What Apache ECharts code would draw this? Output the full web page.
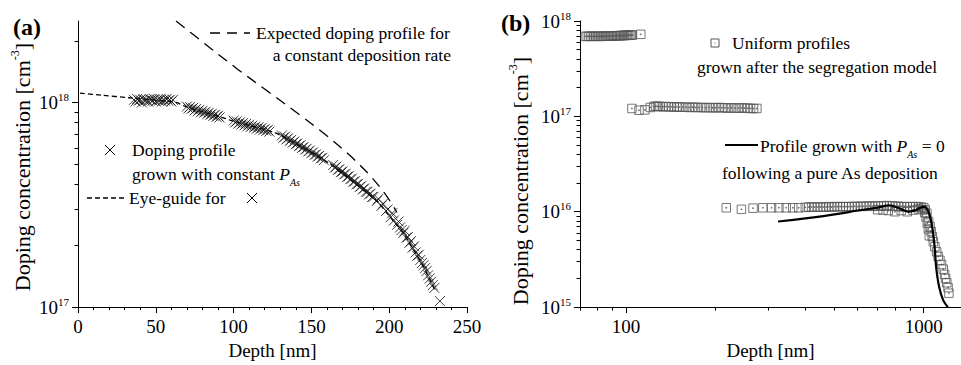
<!DOCTYPE html>
<html><head><meta charset="utf-8">
<script src="https://cdn.jsdelivr.net/npm/echarts@6/dist/echarts.min.js"></script>
<style>html,body{margin:0;padding:0;background:#fff}#c{width:961px;height:365px}</style>
</head><body><div id="c"></div>
<script>
const FONT = "'Liberation Serif', 'Times New Roman', serif";

// ---------- Panel (a) ----------
const aYLabelValues = [1e17, 1e18];
const aYMinorTicks = [2e17,3e17,4e17,5e17,6e17,7e17,8e17,9e17,2e18];

const expDepth = [63, 78.4, 101.5, 121.5, 140.7, 157.5, 174.8, 187.7, 198.6, 205];
const expConc  = [2.5e18, 2.02e18, 1.475e18, 1.14e18, 8.9e17, 7.11e17, 5.5e17, 4.39e17, 3.47e17, 2.9e17];

const eyeDepth = [1.3, 15, 33, 50, 63, 69, 80, 93, 98, 110, 125, 130, 145, 160, 163, 175, 192, 200, 209, 215, 222, 226, 229.5];
const eyeConc  = [1.11e18, 1.085e18, 1.054e18, 1.025e18, 1.0e18, 9.55e17, 9.0e17, 8.43e17, 8.18e17, 7.72e17, 7.18e17, 6.92e17, 5.97e17, 5.13e17, 4.94e17, 4.19e17, 3.3e17, 2.79e17, 2.3e17, 1.94e17, 1.58e17, 1.37e17, 1.2e17];

const crossDepth = [
 36,37,38,39,40,41,42,43,44,45,46,47,48,49,50,51,52,53,54,55,56,57,58,59,60,61,
 70,71,72,73,74,75,76,77,78,79,80,81,82,83,84,85,86,87,88,89,90,91,
 100,101,102,103,104,105,106,107,108,109,110,111,112,113,114,115,116,117,118,119,120,121,122,123,
 131,132,133,134,135,136,137,138,139,140,141,142,143,144,145,146,147,148,149,150,151,152,153,154,155,156,157,158,
 164,165,166,167,168,169,170,171,172,173,174,175,176,177,178,179,180,181,182,183,184,185,186,187,188,189,190,192,193,195,196,198,199,
 201,202,203,205,206,207,208,209,210,211,212,213,214,215,216,217,218,219,220,221,222,223,224,225,226,227,228,229,232.6
];
const crossConc = [
 1.03e18,1.01e18,1.04e18,1.02e18,1.03e18,1.00e18,1.04e18,1.02e18,1.03e18,1.01e18,1.04e18,1.03e18,1.02e18,1.04e18,1.01e18,1.03e18,1.02e18,1.04e18,1.01e18,1.03e18,1.02e18,1.04e18,1.02e18,1.03e18,1.01e18,1.03e18,
 9.55e17,9.35e17,9.5e17,9.3e17,9.4e17,9.15e17,9.3e17,9.05e17,9.2e17,8.95e17,9.1e17,8.9e17,9.0e17,8.75e17,8.9e17,8.7e17,8.8e17,8.6e17,8.7e17,8.5e17,8.6e17,8.45e17,
 8.15e17,7.98e17,8.08e17,7.88e17,7.98e17,7.8e17,7.92e17,7.72e17,7.85e17,7.65e17,7.78e17,7.58e17,7.7e17,7.52e17,7.62e17,7.45e17,7.56e17,7.38e17,7.5e17,7.32e17,7.42e17,7.25e17,7.35e17,7.2e17,
 6.9e17,6.72e17,6.8e17,6.6e17,6.68e17,6.48e17,6.56e17,6.36e17,6.44e17,6.25e17,6.3e17,6.12e17,6.18e17,6.0e17,6.05e17,5.88e17,5.94e17,5.76e17,5.82e17,5.65e17,5.7e17,5.54e17,5.58e17,5.43e17,5.48e17,5.33e17,5.36e17,5.22e17,
 4.95e17,4.8e17,4.85e17,4.68e17,4.72e17,4.56e17,4.6e17,4.45e17,4.48e17,4.33e17,4.36e17,4.22e17,4.24e17,4.1e17,4.12e17,3.98e17,4.0e17,3.86e17,3.9e17,3.76e17,3.8e17,3.66e17,3.66e17,3.55e17,3.58e17,3.45e17,3.46e17,3.3e17,3.38e17,3.12e17,3.2e17,2.95e17,3.0e17,
 2.75e17,2.88e17,2.65e17,2.52e17,2.62e17,2.45e17,2.38e17,2.3e17,2.36e17,2.18e17,2.2e17,2.06e17,2.1e17,1.95e17,1.98e17,1.85e17,1.78e17,1.8e17,1.7e17,1.64e17,1.6e17,1.55e17,1.5e17,1.43e17,1.38e17,1.33e17,1.28e17,1.24e17,1.07e17
];

// ---------- Panel (b) ----------
const bXLabelValues = [100, 1000];
const bXMinorTicks = [70,80,90,200,300,400,500,600,700,800,900];
const bYLabelValues = [1e15, 1e16, 1e17, 1e18];
const bYMinorTicks = [2e15,3e15,4e15,5e15,6e15,7e15,8e15,9e15,2e16,3e16,4e16,5e16,6e16,7e16,8e16,9e16,2e17,3e17,4e17,5e17,6e17,7e17,8e17,9e17];

const sq1Depth = [73,74,75,76,77,78,79,80,81,82,83,84,85,86,87,88,89,90,91,92,93,94,95,96,97,98,99,100,101,102,103,104,105,112];
const sq1Conc  = [6.9e17,6.9e17,6.92e17,6.9e17,6.9e17,6.92e17,6.9e17,6.92e17,6.9e17,6.92e17,6.9e17,6.92e17,6.94e17,6.92e17,6.94e17,6.96e17,6.94e17,6.98e17,7.0e17,6.98e17,7.0e17,7.02e17,7.0e17,7.04e17,7.05e17,7.04e17,7.06e17,7.08e17,7.06e17,7.1e17,7.1e17,7.12e17,7.12e17,7.25e17];

const sq2Depth = [104.6,110.5,115.7,120.6,124,126,128,130,133,136,139,142,145,148,151,155,159,163,167,171,175,180,185,190,195,200,205,210,215,220,226,232,238,244,250,256,262,268,275];
const sq2Conc  = [1.21e17,1.16e17,1.17e17,1.24e17,1.27e17,1.28e17,1.27e17,1.27e17,1.26e17,1.27e17,1.26e17,1.26e17,1.25e17,1.26e17,1.25e17,1.25e17,1.25e17,1.24e17,1.25e17,1.24e17,1.24e17,1.24e17,1.23e17,1.24e17,1.23e17,1.23e17,1.24e17,1.23e17,1.23e17,1.22e17,1.23e17,1.22e17,1.22e17,1.23e17,1.22e17,1.22e17,1.21e17,1.21e17,1.21e17];

const sq3Depth = [217,244,267,288,308,326,345,363,380,400,411,420,430,440,450,460,470,480,490,500,512,524,536,548,560,573,586,600,614,628,642,657,672,687,703,719,735,752,769,786,804,822,840,860,880,900,920,940,960,980,1000,1012,1025,1038,1050,1059,1068,1077,1090,1105,1118,1133,1148,1163,1175,1184,1195,1207,1215];
const sq3Conc  = [1.1e16,1.06e16,1.09e16,1.1e16,1.1e16,1.1e16,1.1e16,1.1e16,1.1e16,1.11e16,1.12e16,1.12e16,1.12e16,1.12e16,1.12e16,1.12e16,1.12e16,1.13e16,1.12e16,1.13e16,1.13e16,1.13e16,1.13e16,1.13e16,1.13e16,1.13e16,1.14e16,1.13e16,1.14e16,1.14e16,1.14e16,1.15e16,1.14e16,1.15e16,1.15e16,1.15e16,1.15e16,1.16e16,1.15e16,1.15e16,1.14e16,1.14e16,1.13e16,1.13e16,1.13e16,1.13e16,1.13e16,1.13e16,1.13e16,1.12e16,1.1e16,1.05e16,9.6e15,7.9e15,7.0e15,6.2e15,5.5e15,4.85e15,4.3e15,3.8e15,3.4e15,3.1e15,2.8e15,2.5e15,2.2e15,2.0e15,1.8e15,1.6e15,1.4e15];

const sq4Depth = [700,730,760,800,840,880,920,960,990,1008,1018,1028,1036,1044];
const sq4Conc  = [1.05e16,1.04e16,1.03e16,1.0e16,1.03e16,1.0e16,1.04e16,1.07e16,1.05e16,9.8e15,8.8e15,7.6e15,6.6e15,5.6e15];

const lineDepth = [324, 400, 460, 528, 600, 697, 768, 830, 890, 945, 1000, 1037, 1065, 1086, 1101, 1128, 1164, 1205];
const lineConc  = [7.9e15, 8.5e15, 9.0e15, 9.6e15, 1.03e16, 1.1e16, 1.17e16, 1.08e16, 1.0e16, 1.05e16, 1.13e16, 1.0e16, 7.2e15, 4.5e15, 2.6e15, 1.6e15, 1.17e15, 1.0e15];

// ---------- helpers ----------
const zip = (xs, ys) => xs.map((x, i) => [x, ys[i]]);
const expFmt = v => '10{s|' + Math.round(Math.log10(v)) + '}';
const plainFmt = v => String(Math.round(v));
const CROSS = 'path://M0,0L10,10M10,0L0,10';
const SQUARE = 'path://M0,0H10V10H0ZM4.5,4.5H5.5V5.5H4.5Z';
const black = '#000';
const labelStyle = {color: black, fontFamily: FONT, fontSize: 19};
const supRich = {s: {fontFamily: FONT, fontSize: 11, lineHeight: 11, verticalAlign: 'top', color: black}};
const nameStyle = {color: black, fontFamily: FONT, fontSize: 19};
const yNameStyle = {color: black, fontFamily: FONT, fontSize: 22, lineHeight: 26,
  rich: {s: {fontFamily: FONT, fontSize: 12, lineHeight: 12, verticalAlign: 'top', color: black}}};

function mainAxis(extra) {
  return Object.assign({
    axisLine: {show: true, lineStyle: {color: black, width: 1}},
    axisTick: {show: true, length: 6, lineStyle: {color: black, width: 1}},
    splitLine: {show: false},
    minorSplitLine: {show: false}
  }, extra);
}
function tickAxis(extra) {
  return Object.assign({
    axisLine: {show: false},
    axisLabel: {show: false},
    splitLine: {show: false}
  }, extra);
}

const chart = echarts.init(document.getElementById('c'), null, {renderer: 'svg'});
const T = (x, y, text, extra) => ({type: 'text', x, y, silent: true,
  style: Object.assign({text, fill: black, fontFamily: FONT, fontSize: 17.5, verticalAlign: 'middle', align: 'left'}, extra || {})});
const L = (x1, y1, x2, y2, extra) => ({type: 'line', silent: true, shape: {x1, y1, x2, y2},
  style: Object.assign({stroke: black, lineWidth: 1}, extra || {})});
const subRich = {
  i: {fontFamily: FONT, fontSize: 17.5, fontStyle: 'italic', lineHeight: 26},
  sub: {fontFamily: FONT, fontSize: 10, fontStyle: 'italic', lineHeight: 10, verticalAlign: 'bottom'}
};

chart.setOption({
  animation: false,
  backgroundColor: '#fff',
  grid: [
    {left: 78, top: 21, width: 389, height: 287, containLabel: false},
    {left: 580, top: 21, width: 393, height: 287, containLabel: false}
  ],
  xAxis: [
    mainAxis({gridIndex: 0, type: 'value', position: 'bottom', min: 0, max: 250, interval: 50,
      minorTick: {show: true, splitNumber: 5, length: 3, lineStyle: {color: black}},
      axisLabel: Object.assign({margin: 10}, labelStyle),
      name: 'Depth [nm]', nameLocation: 'middle', nameGap: 25, nameTextStyle: nameStyle}),
    mainAxis({gridIndex: 1, type: 'log', position: 'bottom', min: 70, max: 1334,
      axisTick: {show: true, length: 6, customValues: bXLabelValues, lineStyle: {color: black}},
      axisLabel: Object.assign({margin: 10, customValues: bXLabelValues, formatter: plainFmt}, labelStyle),
      name: 'Depth [nm]', nameLocation: 'middle', nameGap: 25, nameTextStyle: nameStyle}),
    tickAxis({gridIndex: 1, type: 'log', position: 'bottom', min: 70, max: 1334,
      axisTick: {show: true, length: 3.5, customValues: bXMinorTicks, lineStyle: {color: black}}})
  ],
  yAxis: [
    mainAxis({gridIndex: 0, type: 'log', position: 'left', min: 1e17, max: 2.5e18,
      axisTick: {show: true, length: 6, customValues: aYLabelValues, lineStyle: {color: black}},
      axisLabel: Object.assign({margin: 9, customValues: aYLabelValues, formatter: expFmt, lineHeight: 22, rich: supRich}, labelStyle),
      name: 'Doping concentration [cm{s|-3}]', nameLocation: 'middle', nameGap: 43,
      nameTextStyle: Object.assign({}, yNameStyle, {padding: [0, 6, 0, 0]})}),
    tickAxis({gridIndex: 0, type: 'log', position: 'left', min: 1e17, max: 2.5e18,
      axisTick: {show: true, length: 3.5, customValues: aYMinorTicks, lineStyle: {color: black}}}),
    mainAxis({gridIndex: 1, type: 'log', position: 'left', min: 1e15, max: 1.00001e18,
      axisTick: {show: true, length: 6, customValues: bYLabelValues, lineStyle: {color: black}},
      axisLabel: Object.assign({margin: 9, customValues: bYLabelValues, formatter: expFmt, lineHeight: 22, rich: supRich}, labelStyle),
      name: 'Doping concentration [cm{s|-3}]', nameLocation: 'middle', nameGap: 47,
      nameTextStyle: Object.assign({}, yNameStyle, {padding: [0, 34, 0, 0]})}),
    tickAxis({gridIndex: 1, type: 'log', position: 'left', min: 1e15, max: 1.00001e18,
      axisTick: {show: true, length: 3.5, customValues: bYMinorTicks, lineStyle: {color: black}}})
  ],
  series: [
    {type: 'line', xAxisIndex: 0, yAxisIndex: 0, data: zip(expDepth, expConc), symbol: 'none', smooth: 0.35,
      lineStyle: {color: black, width: 1.3, type: [11, 7]}, z: 2},
    {type: 'line', xAxisIndex: 0, yAxisIndex: 0, data: zip(eyeDepth, eyeConc), symbol: 'none', smooth: 0.3,
      lineStyle: {color: black, width: 1.3, type: [5, 3]}, z: 3},
    {type: 'scatter', xAxisIndex: 0, yAxisIndex: 0, data: zip(crossDepth, crossConc), symbol: CROSS, symbolSize: 10,
      itemStyle: {color: 'transparent', borderColor: '#111', borderWidth: 1}, z: 4},
    {type: 'scatter', xAxisIndex: 1, yAxisIndex: 2, data: zip(sq1Depth, sq1Conc), symbol: SQUARE, symbolSize: 8.5,
      itemStyle: {color: 'transparent', borderColor: '#555', borderWidth: 1}},
    {type: 'scatter', xAxisIndex: 1, yAxisIndex: 2, data: zip(sq2Depth, sq2Conc), symbol: SQUARE, symbolSize: 8.5,
      itemStyle: {color: 'transparent', borderColor: '#555', borderWidth: 1}},
    {type: 'scatter', xAxisIndex: 1, yAxisIndex: 2, data: zip(sq3Depth, sq3Conc), symbol: SQUARE, symbolSize: 8.5,
      itemStyle: {color: 'transparent', borderColor: '#555', borderWidth: 1}},
    {type: 'scatter', xAxisIndex: 1, yAxisIndex: 2, data: zip(sq4Depth, sq4Conc), symbol: SQUARE, symbolSize: 8.5,
      itemStyle: {color: 'transparent', borderColor: '#555', borderWidth: 1}},
    {type: 'line', xAxisIndex: 1, yAxisIndex: 2, data: zip(lineDepth, lineConc), symbol: 'none', smooth: 0.3,
      lineStyle: {color: black, width: 2.2}, z: 5}
  ],
  graphic: [
    T(13, 27, '(a)', {fontSize: 24, fontWeight: 'bold'}),
    T(501, 23, '(b)', {fontSize: 24, fontWeight: 'bold'}),
    // panel (a) legend
    L(210, 33, 250, 33, {lineWidth: 1.3, lineDash: [10, 7]}),
    T(256, 33, 'Expected doping profile for'),
    T(451, 55, 'a constant deposition rate', {align: 'right'}),
    L(105, 145, 115, 155), L(115, 145, 105, 155),
    T(132, 150, 'Doping profile'),
    T(132, 174, 'grown with constant {i|P}{sub|As}', {rich: subRich, lineHeight: 26}),
    L(87, 198, 127, 198, {lineWidth: 1.3, lineDash: [5, 3]}),
    T(129, 198, 'Eye-guide for'),
    L(247, 193, 257, 203), L(257, 193, 247, 203),
    // panel (b) legend
    {type: 'rect', silent: true, shape: {x: 711, y: 39, width: 8, height: 8}, style: {fill: 'none', stroke: '#555', lineWidth: 1}},
    {type: 'rect', silent: true, shape: {x: 714.5, y: 42.5, width: 1, height: 1}, style: {fill: '#666'}},
    T(732, 43, 'Uniform profiles'),
    T(697, 67, 'grown after the segregation model'),
    L(725, 145, 758, 145, {lineWidth: 2.2}),
    T(760, 146, 'Profile grown with {i|P}{sub|As} = 0', {rich: subRich, lineHeight: 26}),
    T(722, 173, 'following a pure As deposition')
  ]
});
</script></body></html>
